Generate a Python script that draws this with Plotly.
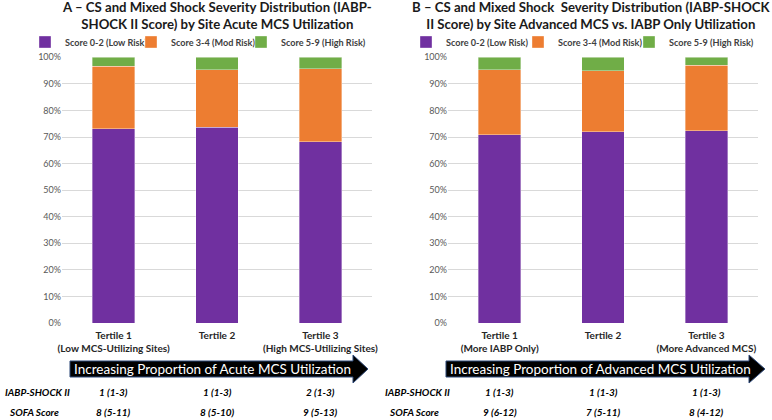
import plotly.graph_objects as go

W, H = 772, 420

# ---------------- data ----------------
categories_a = ["<b>Tertile 1</b><br><b>(Low MCS-Utilizing Sites)</b>",
                "<b>Tertile 2</b>",
                "<b>Tertile 3</b><br><b>(High MCS-Utilizing Sites)</b>"]
categories_b = ["<b>Tertile 1</b><br><b>(More IABP Only)</b>",
                "<b>Tertile 2</b>",
                "<b>Tertile 3</b><br><b>(More Advanced MCS)</b>"]
series_names = ["Score 0-2 (Low Risk)", "Score 3-4 (Mod Risk)", "Score 5-9 (High Risk)"]

low_a = [73.2, 73.7, 68.3]
mod_a = [23.4, 21.7, 27.3]
high_a = [3.4, 4.6, 4.4]

low_b = [70.9, 71.9, 72.3]
mod_b = [24.5, 23.0, 24.7]
high_b = [4.6, 5.1, 3.0]

tick_vals = [0, 10, 20, 30, 40, 50, 60, 70, 80, 90, 100]
tick_text = ["0%", "10%", "20%", "30%", "40%", "50%", "60%", "70%", "80%", "90%", "100%"]

iabp_a = ["1 (1-3)", "1 (1-3)", "2 (1-3)"]
sofa_a = ["8 (5-11)", "8 (5-10)", "9 (5-13)"]
iabp_b = ["1 (1-3)", "1 (1-3)", "1 (1-3)"]
sofa_b = ["9 (6-12)", "7 (5-11)", "8 (4-12)"]

title_a = "A – CS and Mixed Shock Severity Distribution (IABP-<br>SHOCK II Score) by Site Acute MCS Utilization"
title_b = "B – CS and Mixed Shock  Severity Distribution (IABP-SHOCK<br>II Score) by Site Advanced MCS vs. IABP Only Utilization"
arrow_a = "Increasing Proportion of Acute MCS Utilization"
arrow_b = "Increasing Proportion of Advanced MCS Utilization"

colors = ["#7030A0", "#ED7D31", "#70AD47"]
FONT = "Lato"


def px(x):
    return x / W


def py(y):
    return 1 - y / H


fig = go.Figure()

legend_ids_a = ["legend", "legend2", "legend3"]
legend_ids_b = ["legend4", "legend5", "legend6"]

for vals, name, col, lg in zip([low_a, mod_a, high_a], series_names, colors, legend_ids_a):
    fig.add_trace(go.Bar(x=categories_a, y=vals, name=name, marker_color=col, showlegend=True,
                         marker_line=dict(color="rgba(255,255,255,0.6)", width=0.6),
                         xaxis="x", yaxis="y", legend=lg))
for vals, name, col, lg in zip([low_b, mod_b, high_b], series_names, colors, legend_ids_b):
    fig.add_trace(go.Bar(x=categories_b, y=vals, name=name, marker_color=col, showlegend=True,
                         marker_line=dict(color="rgba(255,255,255,0.6)", width=0.6),
                         xaxis="x2", yaxis="y2", legend=lg))

ydom = [py(323), py(57.3)]
yax = dict(range=[0, 100], tickvals=tick_vals, ticktext=tick_text, showgrid=True,
           gridcolor="#D9D9D9", gridwidth=1, zeroline=False, showline=False, automargin=False,
           tickfont=dict(family=FONT, size=9, color="#595959"), domain=ydom, fixedrange=True)
xax = dict(showgrid=False, showline=False, zeroline=False, ticks="", automargin=False, tickangle=0,
           ticklabelstandoff=5, tickfont=dict(family=FONT, size=10, color="#262626"))

leg = dict(orientation="h", font=dict(family=FONT, size=9.1, color="#404040", weight="bold"),
           itemwidth=30, xanchor="left", yanchor="middle", bgcolor="rgba(0,0,0,0)", y=py(42),
           visible=True)

legend_x = [25, 131, 241, 406, 518, 629]
legend_layout = {lg: dict(x=px(lx), **leg) for lg, lx in zip(legend_ids_a + legend_ids_b, legend_x)}

fig.update_layout(
    template="none",
    width=W, height=H, margin=dict(l=0, r=0, t=0, b=0, autoexpand=False),
    paper_bgcolor="white", plot_bgcolor="white",
    barmode="stack", bargap=0.59, showlegend=True,
    font=dict(family=FONT),
    xaxis=dict(domain=[px(62), px(372)], anchor="y", **xax),
    yaxis=dict(anchor="x", **yax),
    xaxis2=dict(domain=[px(448), px(758)], anchor="y2", **xax),
    yaxis2=dict(anchor="x2", **yax),
    **legend_layout,
)

# titles
for txt, cx in [(title_a, 217), (title_b, 591)]:
    fig.add_annotation(text=f"<b>{txt}</b>", x=px(cx), y=py(-3), xref="paper", yref="paper",
                       xanchor="center", yanchor="top", showarrow=False,
                       font=dict(family=FONT, size=13.2, color="#1A1A1A"))


# arrows
def arrow_path(x0, xh, xt, yb0, yb1, yh0, yh1):
    ym = (yh0 + yh1) / 2
    pts = [(x0, yb0), (xh, yb0), (xh, yh0), (xt, ym), (xh, yh1), (xh, yb1), (x0, yb1)]
    return "M " + " L ".join(f"{px(a):.5f},{py(b):.5f}" for a, b in pts) + " Z"


for (x0, xh, xt), txt, cx in [((70, 353, 368), arrow_a, 213), ((446, 749, 765), arrow_b, 600)]:
    fig.add_shape(type="path", path=arrow_path(x0, xh, xt, 361, 377, 355, 383),
                  xref="paper", yref="paper", fillcolor="black",
                  line=dict(color="#2F4A7A", width=1))
    fig.add_annotation(text=txt, x=px(cx), y=py(369), xref="paper", yref="paper",
                       xanchor="center", yanchor="middle", showarrow=False,
                       font=dict(family=FONT, size=13.5, color="white"))

# bottom rows
rowfont = dict(family=FONT, size=10, color="black", style="italic", weight="bold")
for lx in [3, 383]:
    fig.add_annotation(text="IABP-SHOCK II", x=px(lx), y=py(392), xref="paper", yref="paper",
                       xanchor="left", yanchor="middle", showarrow=False, font=rowfont)
    fig.add_annotation(text="SOFA Score", x=px(lx + 4), y=py(412), xref="paper", yref="paper",
                       xanchor="left", yanchor="middle", showarrow=False, font=rowfont)

for xref, cats, iabp, sofa in [("x", categories_a, iabp_a, sofa_a), ("x2", categories_b, iabp_b, sofa_b)]:
    for c, a, s in zip(cats, iabp, sofa):
        fig.add_annotation(text=a, x=c, y=py(392), xref=xref, yref="paper",
                           xanchor="center", yanchor="middle", showarrow=False, font=rowfont)
        fig.add_annotation(text=s, x=c, y=py(412), xref=xref, yref="paper",
                           xanchor="center", yanchor="middle", showarrow=False, font=rowfont)

fig.write_html("out.html", config={"displayModeBar": False},
               post_script="document.body.style.margin='0';document.body.style.overflow='hidden';")
